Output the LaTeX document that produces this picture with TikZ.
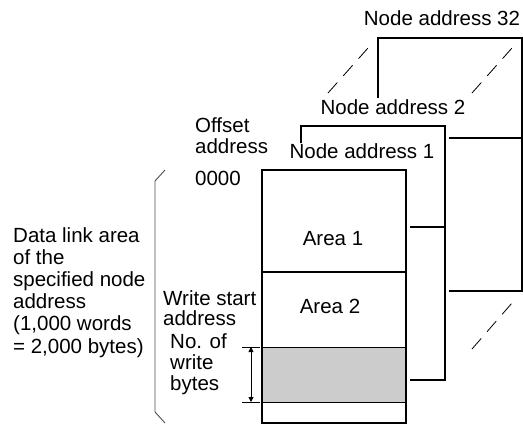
\documentclass[tikz,border=0pt]{standalone}
\usepackage{fontspec}
\setmainfont{Liberation Sans}
\usetikzlibrary{arrows.meta}
\begin{document}
\begin{tikzpicture}[x=1pt,y=-1pt,
  frame/.style={line width=1.9pt},
  divider/.style={line width=1.5pt},
  thinline/.style={line width=0.9pt},
  gapline/.style={line width=0.8pt, dash pattern=on 14pt off 9pt},
  lbl/.style={font=\fontsize{20.5}{21}\selectfont, inner sep=0pt, align=left}]

  % page: 523 x 424 px, y grows downwards
  % multi-line labels sit on the baseline of their last line
  \useasboundingbox (0,0) rectangle (523,424);

  % ---- (1) node address 32 (back page) ----
  \draw[frame] (378,98) -- (378,38) -- (522,38) -- (522,291) -- (449,291);
  \draw[divider] (449,138) -- (522,138);

  % ---- (2) node address 2 (middle page) ----
  \draw[frame] (301,143) -- (301,126) -- (445,126) -- (445,380) -- (410,380);
  \draw[divider] (410,227) -- (445,227);

  % ---- (3) gaps between the pages ----
  \coordinate (ul0) at (328,93);  \coordinate (ul1) at (368,48);
  \coordinate (ur0) at (472,93);  \coordinate (ur1) at (512,48);
  \coordinate (lr0) at (472,349); \coordinate (lr1) at (512,303);
  \draw[gapline] (ul0) -- (ul1);
  \draw[gapline] (ur0) -- (ur1);
  \draw[gapline] (lr0) -- (lr1);

  % ---- (4) node address 1 (front page) ----
  \fill[black!20] (262,347) rectangle (406,402);
  \draw[thinline] (262,347) -- (406,347);
  \draw[thinline] (262,402) -- (406,402);
  \draw[divider] (262,272) -- (406,272);
  \draw[frame] (262,170) rectangle (406,423);
  \node[lbl, anchor=base] (a1) at (333,245) {Area 1};
  \node[lbl, anchor=base] (a2) at (330,313) {Area 2};

  % ---- (5) page titles ----
  \node[lbl, anchor=base] (n32) at (442,25)  {Node address 32};
  \node[lbl, anchor=base] (n2)  at (393,114) {Node address 2};
  \node[lbl, anchor=base] (n1)  at (362,158) {Node address 1};

  % ---- (6) offsets on the left of the page ----
  \node[lbl, anchor=base west] (off)  at (195,153) {Offset\\address};
  \node[lbl, anchor=base west] (zero) at (195,185) {0000};
  \node[lbl, anchor=base west, font=\fontsize{20.5}{20}\selectfont]
    (wsa) at (163,325) {Write start\\address};
  \node[lbl, anchor=base west] (nwb)  at (170,390) {No. of\\write\\bytes};

  % ---- (7) number of write bytes ----
  \coordinate (wt) at (251,347);
  \coordinate (wb) at (251,402);
  \draw[thinline] (242,347) -- (260,347);
  \draw[thinline] (242,402) -- (260,402);
  \draw[thinline, {Triangle[width=5pt,length=5pt]}-{Triangle[width=5pt,length=5pt]}]
    (wt) -- (wb);

  % ---- (8) bracket for the whole data link area ----
  \draw[thinline, black!70] (165,170) -- (155,181) -- (155,412) -- (165,423);
  \node[lbl, anchor=base west, font=\fontsize{20.5}{22.2}\selectfont]
    (dla) at (13,353)
    {Data link area\\of the\\specified node\\address\\(1,000 words\\= 2,000 bytes)};

\end{tikzpicture}
\end{document}
